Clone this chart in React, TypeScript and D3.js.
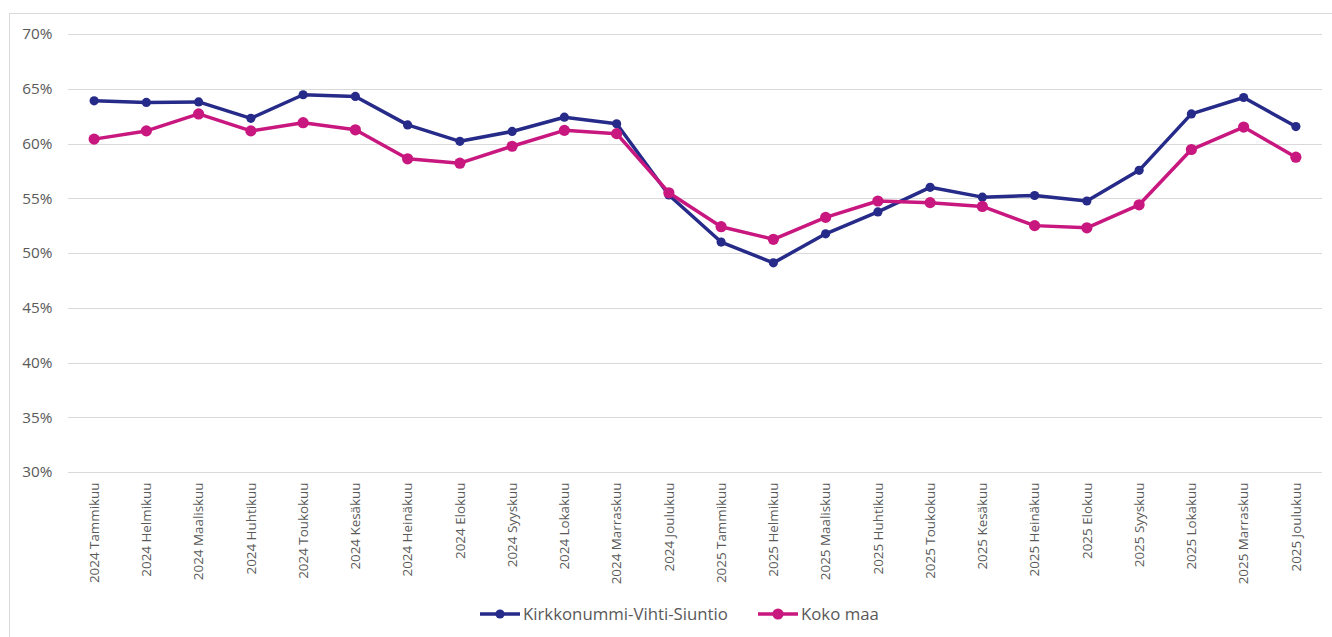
import React from "react";
import * as d3 from "d3";

const categories = [
  "2024 Tammikuu", "2024 Helmikuu", "2024 Maaliskuu", "2024 Huhtikuu", "2024 Toukokuu", "2024 Kesäkuu",
  "2024 Heinäkuu", "2024 Elokuu", "2024 Syyskuu", "2024 Lokakuu", "2024 Marraskuu", "2024 Joulukuu",
  "2025 Tammikuu", "2025 Helmikuu", "2025 Maaliskuu", "2025 Huhtikuu", "2025 Toukokuu", "2025 Kesäkuu",
  "2025 Heinäkuu", "2025 Elokuu", "2025 Syyskuu", "2025 Lokakuu", "2025 Marraskuu", "2025 Joulukuu",
];

const kirkkonummi = [
  63.9, 63.75, 63.8, 62.3, 64.45, 64.3, 61.7, 60.2, 61.1, 62.4, 61.8, 55.3,
  51.0, 49.1, 51.75, 53.75, 56.0, 55.1, 55.25, 54.75, 57.55, 62.7, 64.2, 61.55,
];

const kokoMaa = [
  60.4, 61.15, 62.7, 61.15, 61.9, 61.25, 58.6, 58.2, 59.75, 61.2, 60.9, 55.5,
  52.4, 51.25, 53.25, 54.75, 54.6, 54.25, 52.5, 52.3, 54.4, 59.45, 61.5, 58.75,
];

const yTicks = [30, 35, 40, 45, 50, 55, 60, 65, 70];

const seriesNames = ["Kirkkonummi-Vihti-Siuntio", "Koko maa"];
const seriesColors = ["#262A88", "#C8177F"];

export default function App() {
  const W = 1332, H = 637;
  const left = 68, right = 1322, top = 34, bottom = 472;
  const x = d3.scaleBand<string>().domain(categories).range([left, right]);
  const y = d3.scaleLinear().domain([30, 70]).range([bottom, top]);
  const cx = (c: string) => (x(c) as number) + x.bandwidth() / 2;
  const line = d3.line<number>().x((_, i) => cx(categories[i])).y((v) => y(v));
  const series = [kirkkonummi, kokoMaa];
  const radii = [4.6, 5.6];
  const font = "'Open Sans', sans-serif";
  const textColor = "#595959";

  const legendItems = [
    { x0: 480, tx: 523 },
    { x0: 758, tx: 801 },
  ];

  return (
    <svg width={W} height={H} style={{ position: "absolute", left: 0, top: 0 }}>
      <rect x={0} y={0} width={W} height={H} fill="#ffffff" />
      <rect x={9.5} y={13.5} width={W} height={H} fill="none" stroke="#d9d9d9" strokeWidth={1} />
      {yTicks.map((t) => (
        <g key={t}>
          <line x1={left} x2={right} y1={Math.round(y(t)) + 0.5} y2={Math.round(y(t)) + 0.5} stroke="#d9d9d9" strokeWidth={1} />
          <text x={52.5} y={y(t)} dy="0.35em" textAnchor="end" fontFamily={font} fontSize={15.3} fill={textColor}>
            {t}%
          </text>
        </g>
      ))}
      {categories.map((c) => (
        <text
          key={c}
          transform={`translate(${cx(c)},${bottom + 10.5}) rotate(-90)`}
          dy="0.35em"
          textAnchor="end"
          fontFamily={font}
          fontSize={13.4}
          fill={textColor}
        >
          {c}
        </text>
      ))}
      {series.map((s, si) => (
        <g key={si}>
          <path d={line(s) || ""} fill="none" stroke={seriesColors[si]} strokeWidth={3.5} strokeLinejoin="round" />
          {s.map((v, i) => (
            <circle key={i} cx={cx(categories[i])} cy={y(v)} r={radii[si]} fill={seriesColors[si]} />
          ))}
        </g>
      ))}
      {legendItems.map((l, i) => (
        <g key={i}>
          <line x1={l.x0} x2={l.x0 + 40} y1={614} y2={614} stroke={seriesColors[i]} strokeWidth={3.5} />
          <circle cx={l.x0 + 20} cy={614} r={radii[i]} fill={seriesColors[i]} />
          <text x={l.tx} y={614} dy="0.35em" fontFamily={font} fontSize={16.8} fill={textColor}>
            {seriesNames[i]}
          </text>
        </g>
      ))}
    </svg>
  );
}
